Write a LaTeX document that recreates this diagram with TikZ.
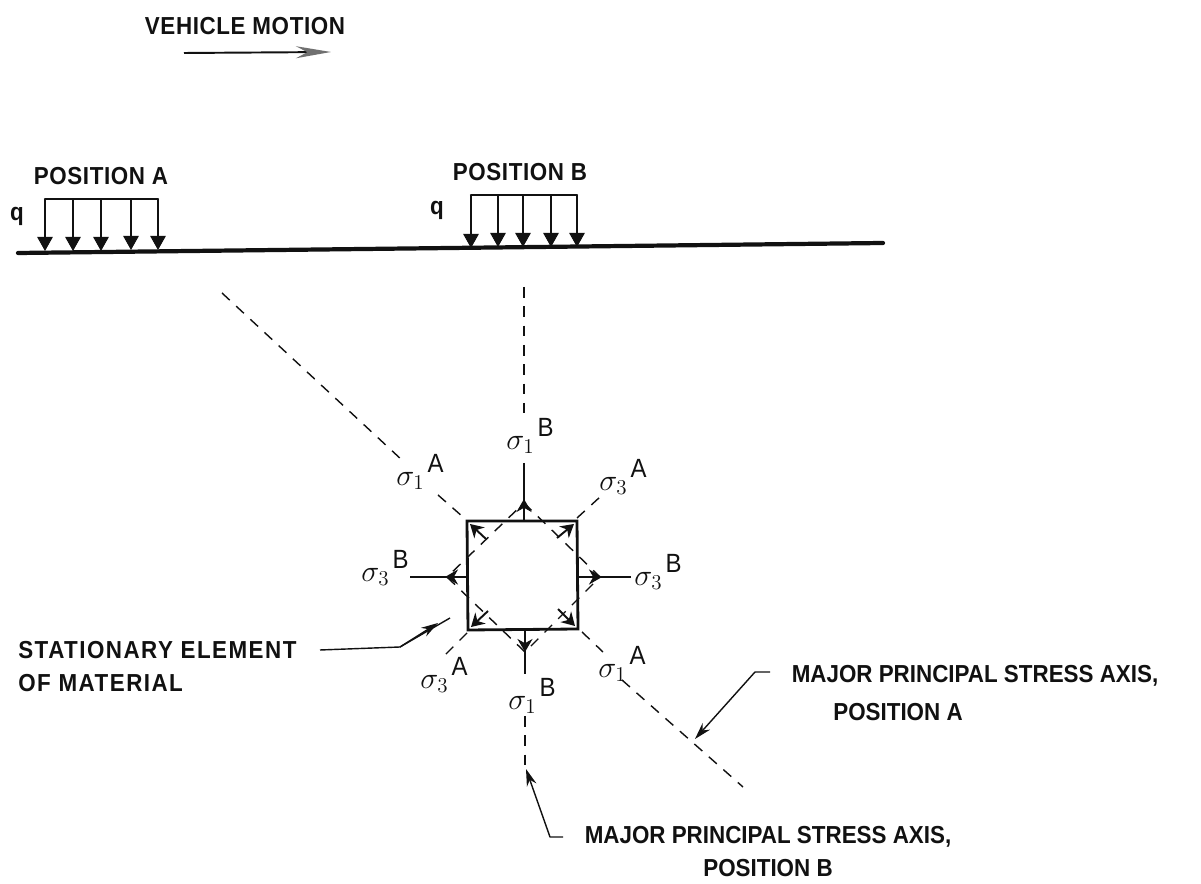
\documentclass[tikz,border=0pt]{standalone}
\usepackage{amsmath,amssymb}
\usepackage{fontspec}
\setsansfont[FakeStretch=0.91]{Liberation Sans}
\usepackage{xcolor}
\usetikzlibrary{calc,arrows.meta,positioning}
\definecolor{ink}{HTML}{111111}
\definecolor{headgray}{HTML}{707070}
\newcommand{\stresslab}[2]{$\sigma_{#1}$\raisebox{1.0ex}{\hspace{0.1em}\fontsize{15}{17}\selectfont\sffamily #2}}
\tikzset{
  base/.style={draw=ink, line width=0.9pt, line cap=round, line join=round},
  ground/.style={draw=ink, line width=2.4pt, line cap=round},
  box/.style={draw=ink, line width=1.6pt, line join=miter},
  axis/.style={draw=ink, line width=0.8pt, dash pattern=on 6pt off 5pt},
  lead/.style={draw=ink, line width=0.8pt, line join=round},
  leadtip/.style={lead, -{Stealth[length=3.4mm,width=2mm]}},
  load/.style={draw=ink, line width=0.6pt, -{Triangle[length=2.8mm,width=3.1mm]}},
  tip/.style={draw=ink, line width=1.1pt, -{Stealth[length=2.6mm,width=3mm]}},
  lab/.style={text=ink, font=\sffamily\bfseries\fontsize{14}{16}\selectfont, inner sep=0pt},
  labmid/.style={text=ink, font=\sffamily\bfseries\fontsize{14}{16}\selectfont\addfontfeatures{LetterSpace=2.5}, inner sep=0pt},
  labwide/.style={text=ink, font=\sffamily\bfseries\fontsize{14}{16}\selectfont\addfontfeatures{LetterSpace=6}, inner sep=0pt},
  stress/.style={text=ink, font=\fontsize{17}{19}\selectfont, inner sep=0pt},
}
\begin{document}
\begin{tikzpicture}[x=0.02cm,y=-0.02cm]
\useasboundingbox (0,0) rectangle (1201,884);
% motion arrow
\node[labmid] (motion) at (245,26) {VEHICLE MOTION};
\coordinate (mstart) at (184,53);
\coordinate (mend) at (331,52);
\draw[lead, line width=1.1pt, -{Stealth[length=7mm,width=2.4mm,color=headgray]}] (mstart) -- (mend);
% ground and loads
\coordinate (gleft) at (18,253);
\coordinate (gright) at (883,243);
\draw[ground] (gleft) -- (gright);
\node[labmid] (posa) at (101,176) {POSITION A};
\node[labmid] (posb) at (520,172) {POSITION B};
\node[lab] (qa) at (17,216) {q};
\node[lab] (qb) at (437,210) {q};
\draw[base, line width=1.3pt] (45,199) -- (158,199);
\draw[base, line width=1.3pt] (471,195) -- (577,195);
\foreach \x/\y in {45/251,73/251,101/251,131/250,158/250,471/248,498/247,523/247,551/247,577/247}{
  \coordinate (top\x) at (\x,{\x<300 ? 199 : 195});
  \coordinate (foot\x) at (\x,\y);
  \draw[load] (top\x) -- (foot\x);
}
% principal axes
\coordinate (tl) at (467,521);
\coordinate (tr) at (577,521);
\coordinate (bl) at (468,630);
\coordinate (br) at (578,629);
\draw[axis] (222,293) -- (403,461);
\draw[axis] (438,495) -- (463,517);
\draw[axis] (582,632) -- (603,652);
\draw[axis] (622,680) -- (743,787);
\draw[axis] (577,518) -- (600,497);
\draw[axis] (467,633) -- (445,655);
\draw[axis] (524,287) -- (524,421);
\draw[axis] (525,716) -- (525,767);
% element
\draw[box] (tl) -- (tr) -- (br) -- (bl) -- cycle;
\draw[axis] (524,503) -- (600,577) -- (525,652) -- (447,577) -- cycle;
% stresses
\draw[tip] (524,463) -- (524,519) (524,521) -- (524,499);
\draw[tip] (525,674) -- (525,632) (525,630) -- (525,652);
\draw[tip] (410,577) -- (466,577) (468,577) -- (445,577);
\draw[tip] (631,577) -- (580,577) (578,577) -- (602,577);
\draw[tip] (486,539) -- (470,524);
\draw[tip] (557,538) -- (574,524);
\draw[tip] (488,611) -- (471,627);
\draw[tip] (558,609) -- (575,626);
% labels
\node[stress] (s1bt) at (530,436) {\stresslab{1}{B}};
\node[stress] (s1at) at (420,472) {\stresslab{1}{A}};
\node[stress] (s3at) at (623,477) {\stresslab{3}{A}};
\node[stress] (s3bl) at (385,568) {\stresslab{3}{B}};
\node[stress] (s3br) at (658,572) {\stresslab{3}{B}};
\node[stress] (s3ab) at (444,675) {\stresslab{3}{A}};
\node[stress] (s1ab) at (622,664) {\stresslab{1}{A}};
\node[stress] (s1bb) at (532,696) {\stresslab{1}{B}};
% leaders
\node[labwide, align=left, anchor=north west] (elem) at (18,641) {STATIONARY ELEMENT\\[3pt]OF MATERIAL};
\coordinate (ea) at (320,650);
\coordinate (eb) at (400,647);
\coordinate (ec) at (438,623);
\coordinate (ed) at (450,618);
\draw[lead] (ea) -- (eb) -- (ed);
\draw[leadtip] (eb) -- (ec);
\node[lab] (axa) at (975,676) {MAJOR PRINCIPAL STRESS AXIS,};
\node[lab] (axapos) at (898,712) {POSITION A};
\coordinate (la) at (770,672);
\coordinate (lb) at (755,672);
\coordinate (lc) at (695,739);
\draw[leadtip] (la) -- (lb) -- (lc);
\node[lab] (axb) at (768,837) {MAJOR PRINCIPAL STRESS AXIS,};
\node[lab] (axbpos) at (768,868) {POSITION B};
\coordinate (ma) at (563,837);
\coordinate (mb) at (550,837);
\coordinate (mc) at (526,769);
\draw[leadtip] (ma) -- (mb) -- (mc);
\end{tikzpicture}
\end{document}
